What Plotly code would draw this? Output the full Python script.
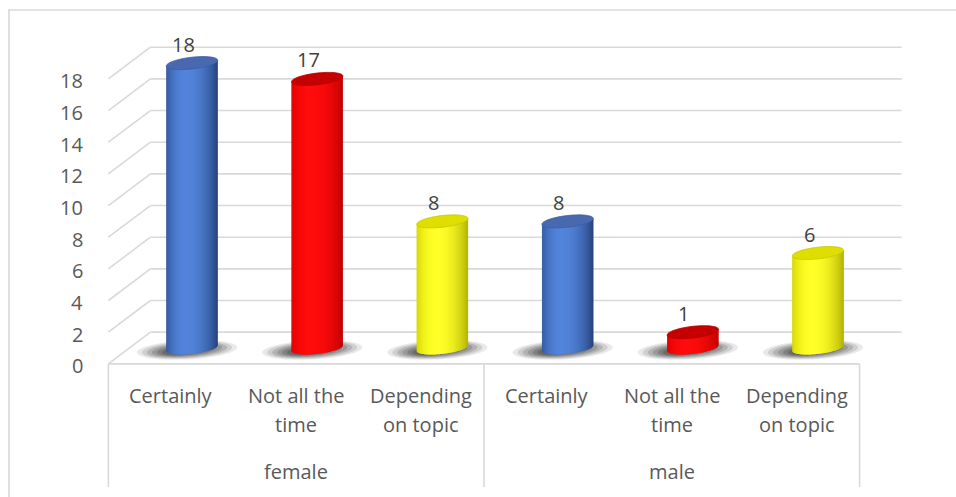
import numpy as np
import plotly.graph_objects as go

# ---- data ----
groups = ["female", "male"]
answers = ["Certainly", "Not all the time", "Depending on topic"]
answer_lines = [["Certainly"], ["Not all the", "time"], ["Depending", "on topic"]]
female = [18, 17, 8]
male = [8, 1, 6]
y_ticks = [0, 2, 4, 6, 8, 10, 12, 14, 16, 18]

# ---- page geometry (pixels) ----
W, H = 956, 497
X0_PX, X_STEP = 192.0, 125.2      # first slot centre, slot width
Y0_PX, Y_UNIT = 348.0, 15.83      # floor (mid depth), pixels per unit
DX, DY = 0.168, 1.0               # half depth of the 3-D box in axis units

GRID = "#d9d9d9"
TEXT = "#595959"
FONT = "Open Sans"

# colour sets: left edge, highlight, right edge, cap
PALETTE = [
    ((50, 85, 155), (82, 132, 220), (34, 60, 115), (72, 104, 176)),
    ((222, 0, 0), (255, 12, 12), (188, 0, 0), (198, 0, 0)),
    ((212, 212, 0), (255, 255, 40), (172, 172, 0), (222, 222, 0)),
]

values = female + male
n = len(values)
xs = list(range(n))

fig = go.Figure()
fig.add_trace(go.Scatter(x=[], y=[], showlegend=False))

shapes = []
annotations = []


def rgb(c):
    return "rgb(%d,%d,%d)" % tuple(int(round(v)) for v in c)


def line(x0, y0, x1, y1, color=GRID, width=1.6, xref="x", yref="y"):
    shapes.append(dict(type="line", x0=x0, y0=y0, x1=x1, y1=y1, xref=xref, yref=yref,
                       line=dict(color=color, width=width), layer="above"))


def ypaper(px):
    return 1 - px / H


# outer chart border
shapes.append(dict(type="rect", xref="paper", yref="paper", x0=9 / W, x1=1.2,
                   y0=-0.2, y1=ypaper(10), line=dict(color=GRID, width=1.6)))

left_f, right_f = -0.5 - DX, n - 0.5 - DX
left_b, right_b = -0.5 + DX, n - 0.5 + DX

# side-wall diagonals and back-wall gridlines
for k in y_ticks:
    line(left_f, k - DY, left_b, k + DY)
    line(left_b, k + DY, right_b, k + DY)

# front floor edge / category axis line
line(left_f, -DY, right_f, -DY)

# category group separators running down through the label area
for xg in [left_f, left_f + 3, right_f]:
    shapes.append(dict(type="line", xref="x", yref="paper", x0=xg, x1=xg,
                       y0=ypaper(487), y1=ypaper(Y0_PX + DY * Y_UNIT),
                       line=dict(color=GRID, width=1.6)))

A, B, TILT = 0.205, 0.37, 0.18


def shade(u, cl, ch, cr, hpos=-0.25):
    if u <= hpos:
        d = (hpos - u) / (1 + hpos)
        e = cl
    else:
        d = (u - hpos) / (1 - hpos)
        e = cr
    w = np.cos(min(d, 1.0) * np.pi / 2) ** 0.7
    return [e[j] + (ch[j] - e[j]) * w for j in range(3)]


def ellipse_path(cx, cy, a, b, tilt, npts=72):
    t = np.linspace(0, 2 * np.pi, npts, endpoint=False)
    px = cx + a * np.cos(t)
    py = cy + tilt * np.cos(t) + b * np.sin(t)
    return "M " + " L ".join("%.5f,%.5f" % (p, q) for p, q in zip(px, py)) + " Z"


# soft floor shadows
for i, v in zip(xs, values):
    for s, op in [(1.0, 0.10), (0.9, 0.13), (0.8, 0.16), (0.7, 0.19), (0.6, 0.22), (0.5, 0.25)]:
        shapes.append(dict(type="path", xref="x", yref="y",
                           path=ellipse_path(i - 0.04, -0.12, 0.40 * s, 0.60 * s, 0.16),
                           fillcolor="rgba(40,40,40,%.2f)" % op, line=dict(width=0)))


def bottom(u):
    return TILT * u - B * np.sqrt(max(0.0, 1 - u ** 2))


# cylinders: overlapping vertical bands shaded across the curved face
for i, v in zip(xs, values):
    cl, ch, cr, cap = PALETTE[i % 3]
    us = np.sin(np.linspace(-np.pi / 2, np.pi / 2, 41))
    for j in range(len(us) - 1):
        u0 = us[j]
        u1 = us[min(j + 2, len(us) - 1)]
        seg = np.linspace(u0, u1, 5)
        top = ["%.5f,%.5f" % (i + A * u, v + TILT * u) for u in seg]
        bot = ["%.5f,%.5f" % (i + A * u, bottom(u)) for u in seg[::-1]]
        col = rgb(shade((us[j] + us[j + 1]) / 2, cl, ch, cr))
        path = "M " + " L ".join(top + bot) + " Z"
        shapes.append(dict(type="path", xref="x", yref="y", path=path,
                           fillcolor=col, line=dict(width=0)))
    shapes.append(dict(type="path", xref="x", yref="y", path=ellipse_path(i, v, A, B, TILT),
                       fillcolor=rgb(cap), line=dict(color=rgb([c * 0.9 for c in cap]), width=0.8)))

# value labels
for i, v in zip(xs, values):
    annotations.append(dict(x=i, y=v, xref="x", yref="y", text=str(v), showarrow=False,
                            xshift=-9, yshift=19, yanchor="middle",
                            font=dict(family=FONT, size=20, color="#404040")))

# value-axis labels on the front plane
for k in y_ticks:
    annotations.append(dict(x=-0.855, y=k - DY, xref="x", yref="y", text=str(k),
                            showarrow=False, xanchor="right", yanchor="middle", yshift=-2,
                            font=dict(family=FONT, size=20, color=TEXT)))

# category labels (inner level) and group labels (outer level)
LINE_PX = [395, 424]
for i in xs:
    for li, txt in enumerate(answer_lines[i % 3]):
        annotations.append(dict(x=i - DX, y=ypaper(LINE_PX[li]), xref="x", yref="paper",
                                text=txt, showarrow=False,
                                xanchor="center", yanchor="middle",
                                font=dict(family=FONT, size=20, color=TEXT)))
for g, name in enumerate(groups):
    annotations.append(dict(x=g * 3 + 1 - DX, y=ypaper(471), xref="x", yref="paper",
                            text=name, showarrow=False, xanchor="center", yanchor="middle",
                            font=dict(family=FONT, size=20, color=TEXT)))

fig.update_layout(
    width=W, height=H,
    margin=dict(l=0, r=0, t=0, b=0),
    paper_bgcolor="white", plot_bgcolor="white",
    xaxis=dict(range=[-X0_PX / X_STEP, (W - X0_PX) / X_STEP], visible=False, fixedrange=True),
    yaxis=dict(range=[(Y0_PX - H) / Y_UNIT, Y0_PX / Y_UNIT], visible=False, fixedrange=True),
    shapes=shapes,
    annotations=annotations,
    showlegend=False,
)

fig.write_html("out.html")
